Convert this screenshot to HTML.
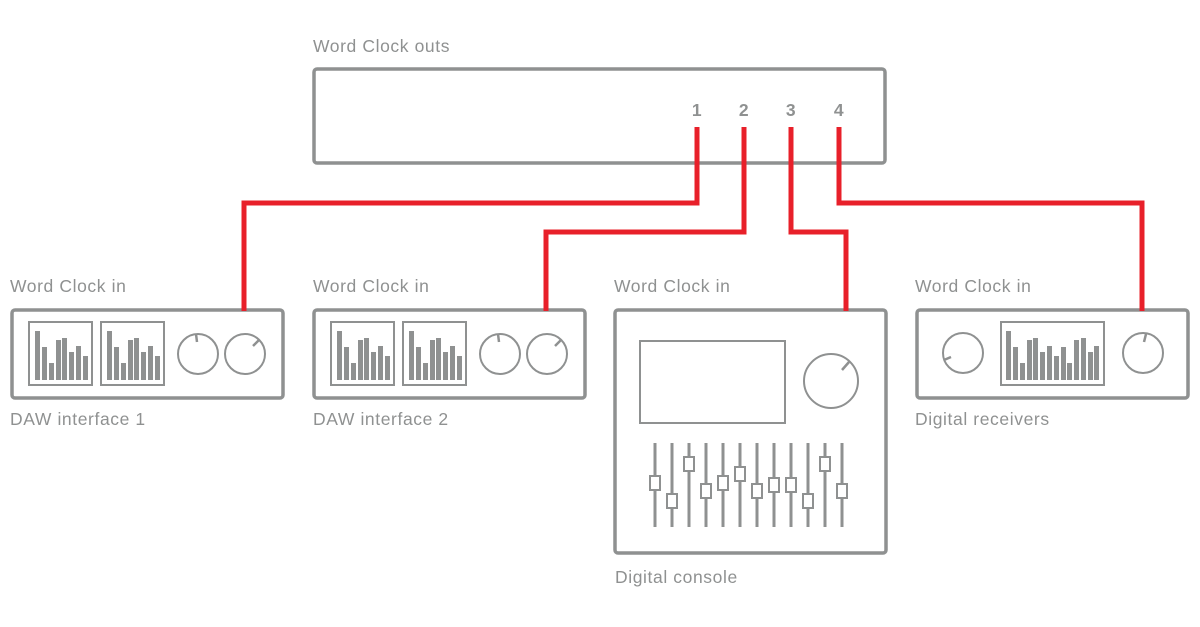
<!DOCTYPE html>
<html><head><meta charset="utf-8"><style>
html,body{margin:0;padding:0;background:#fff}
svg{display:block}
text{font-family:"Liberation Sans",sans-serif;fill:#8f9191;font-size:17.5px;letter-spacing:0.6px}
</style></head><body>
<svg width="1200" height="627" viewBox="0 0 1200 627" xmlns="http://www.w3.org/2000/svg">
<g fill="none" stroke="#8f9191">
<rect x="314" y="69" width="571" height="94" rx="3" stroke-width="3.5"/>
<rect x="12" y="310" width="271" height="88" rx="3" stroke-width="3.5"/>
<rect x="314" y="310" width="271" height="88" rx="3" stroke-width="3.5"/>
<rect x="615" y="310" width="271" height="243" rx="3" stroke-width="3.5"/>
<rect x="917" y="310" width="271" height="88" rx="3" stroke-width="3.5"/>
</g>
<g fill="none" stroke="#e8202a" stroke-width="5" stroke-linejoin="miter">
<polyline points="697,127 697,203 244,203 244,311"/>
<polyline points="744,127 744,232 546,232 546,311"/>
<polyline points="791,127 791,232 846,232 846,311"/>
<polyline points="839,127 839,203 1142,203 1142,311"/>
</g>
<text x="313" y="52">Word Clock outs</text>
<g style="font-weight:bold;font-size:18.5px;letter-spacing:0" text-anchor="middle">
<text x="697" y="116">1</text><text x="744" y="116">2</text><text x="791" y="116">3</text><text x="839" y="116">4</text>
</g>
<text x="10" y="292">Word Clock in</text>
<text x="313" y="292">Word Clock in</text>
<text x="614" y="292">Word Clock in</text>
<text x="915" y="292">Word Clock in</text>
<text x="10" y="425">DAW interface 1</text>
<text x="313" y="425">DAW interface 2</text>
<text x="615" y="583">Digital console</text>
<text x="915" y="425">Digital receivers</text>

<defs>
<g id="meter">
<rect x="0" y="0" width="63" height="63" fill="none" stroke="#8f9191" stroke-width="2"/>
<g fill="#8f9191">
<rect x="6" y="9" width="5" height="49"/><rect x="13" y="25" width="5" height="33"/>
<rect x="20" y="41" width="5" height="17"/><rect x="27" y="18" width="5" height="40"/>
<rect x="33" y="16" width="5" height="42"/><rect x="40" y="30" width="5" height="28"/>
<rect x="47" y="24" width="5" height="34"/><rect x="54" y="34" width="5" height="24"/>
</g></g>
<g id="knobs">
<circle cx="0" cy="0" r="20" fill="none" stroke="#8f9191" stroke-width="2"/>
<line x1="-2" y1="-20" x2="-1" y2="-12" stroke="#8f9191" stroke-width="2.5"/>
<circle cx="47" cy="0" r="20" fill="none" stroke="#8f9191" stroke-width="2"/>
<line x1="61" y1="-14" x2="55" y2="-8" stroke="#8f9191" stroke-width="2.5"/>
</g>
</defs>
<use href="#meter" x="29" y="322"/><use href="#meter" x="101" y="322"/><use href="#knobs" x="198" y="354"/>
<use href="#meter" x="331" y="322"/><use href="#meter" x="403" y="322"/><use href="#knobs" x="500" y="354"/>

<g fill="none" stroke="#8f9191" stroke-width="2">
<rect x="640" y="341" width="145" height="82"/>
<circle cx="831" cy="381" r="27"/>
<circle cx="963" cy="353" r="20"/>
<circle cx="1143" cy="353" r="20"/>
<rect x="1001" y="322" width="103" height="63"/>
</g>
<g stroke="#8f9191" stroke-width="2.5">
<line x1="849" y1="362" x2="842" y2="370"/>
<line x1="944" y1="360" x2="951" y2="357"/>
<line x1="1146" y1="334" x2="1144" y2="342"/>
</g>
<g fill="#8f9191">
<rect x="1006" y="331" width="5" height="49"/><rect x="1013" y="347" width="5" height="33"/>
<rect x="1020" y="363" width="5" height="17"/><rect x="1027" y="340" width="5" height="40"/>
<rect x="1033" y="338" width="5" height="42"/><rect x="1040" y="352" width="5" height="28"/>
<rect x="1047" y="346" width="5" height="34"/><rect x="1054" y="356" width="5" height="24"/>
<rect x="1061" y="347" width="5" height="33"/><rect x="1067" y="363" width="5" height="17"/>
<rect x="1074" y="340" width="5" height="40"/><rect x="1081" y="338" width="5" height="42"/>
<rect x="1088" y="352" width="5" height="28"/><rect x="1094" y="346" width="5" height="34"/>
</g>
<g stroke="#8f9191">
<g stroke-width="3">
<line x1="655" y1="443" x2="655" y2="527"/><line x1="672" y1="443" x2="672" y2="527"/>
<line x1="689" y1="443" x2="689" y2="527"/><line x1="706" y1="443" x2="706" y2="527"/>
<line x1="723" y1="443" x2="723" y2="527"/><line x1="740" y1="443" x2="740" y2="527"/>
<line x1="757" y1="443" x2="757" y2="527"/><line x1="774" y1="443" x2="774" y2="527"/>
<line x1="791" y1="443" x2="791" y2="527"/><line x1="808" y1="443" x2="808" y2="527"/>
<line x1="825" y1="443" x2="825" y2="527"/><line x1="842" y1="443" x2="842" y2="527"/>
</g>
<g fill="#fff" stroke-width="2">
<rect x="650" y="476" width="10" height="14"/><rect x="667" y="494" width="10" height="14"/>
<rect x="684" y="457" width="10" height="14"/><rect x="701" y="484" width="10" height="14"/>
<rect x="718" y="476" width="10" height="14"/><rect x="735" y="467" width="10" height="14"/>
<rect x="752" y="484" width="10" height="14"/><rect x="769" y="478" width="10" height="14"/>
<rect x="786" y="478" width="10" height="14"/><rect x="803" y="494" width="10" height="14"/>
<rect x="820" y="457" width="10" height="14"/><rect x="837" y="484" width="10" height="14"/>
</g></g>
</svg>
</body></html>
